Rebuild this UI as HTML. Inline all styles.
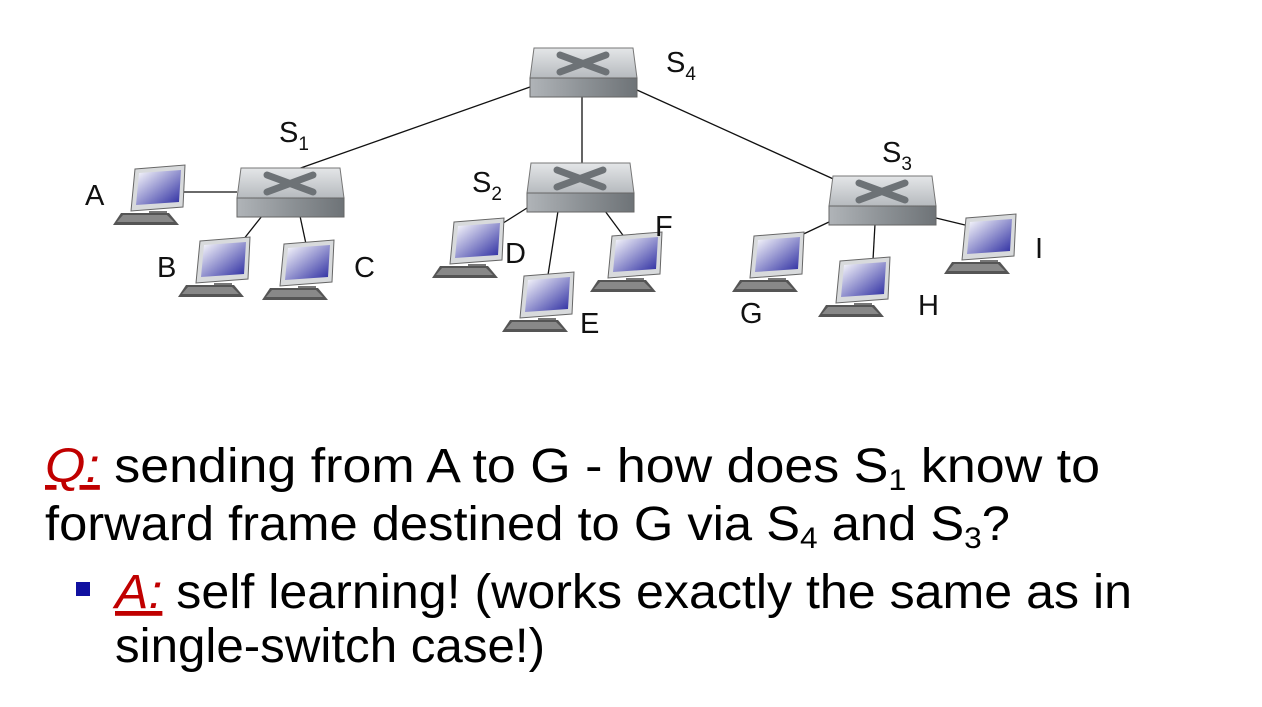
<!DOCTYPE html>
<html><head><meta charset="utf-8"><style>
html,body{margin:0;padding:0;background:#fff;}
svg{display:block;}
.l{font-family:"Liberation Sans",sans-serif;font-size:29px;fill:#111;}
.t{font-family:"Liberation Sans",sans-serif;font-size:48px;fill:#000;}
</style></head><body>
<svg width="1262" height="707" viewBox="0 0 1262 707" xmlns="http://www.w3.org/2000/svg">
<defs>
<linearGradient id="scr" x1="0" y1="0" x2="1" y2="1"><stop offset="0" stop-color="#fff"/><stop offset="1" stop-color="#2a2aa0"/></linearGradient>
<linearGradient id="top" x1="0" y1="0" x2="0" y2="1"><stop offset="0" stop-color="#e4e6e8"/><stop offset="1" stop-color="#b6babe"/></linearGradient>
<linearGradient id="front" x1="0" y1="0" x2="1" y2="0"><stop offset="0" stop-color="#b0b4b8"/><stop offset="0.5" stop-color="#8d9296"/><stop offset="1" stop-color="#6e7377"/></linearGradient>
<g id="sw">
<polygon points="4,0 103,0 107,30 0,30" fill="url(#top)" stroke="#777" stroke-width="1"/>
<rect x="0" y="30" width="107" height="19" fill="url(#front)" stroke="#666" stroke-width="1"/>
<path d="M30,7 L76,24 M76,7 L30,24" stroke="#6d7276" stroke-width="7" stroke-linecap="round"/>
</g>
<g id="pc">
<polygon points="22,4 72,0 70,42 18,46" fill="#d8dadc" stroke="#666" stroke-width="1"/>
<polygon points="26,8 68,5 66,37 23,40" fill="url(#scr)"/>
<rect x="36" y="46" width="18" height="4" fill="#777"/>
<polygon points="8,48 56,48 66,60 0,60" fill="#555"/>
<polygon points="10,50 54,50 61,57 4,57" fill="#888"/>
</g>
</defs>
<g stroke="#111" stroke-width="1.3">
<line x1="530" y1="87" x2="295" y2="170"/>
<line x1="582" y1="97" x2="582" y2="163"/>
<line x1="637" y1="90" x2="840" y2="182"/>
<line x1="183" y1="192" x2="237" y2="192"/>
<line x1="262" y1="216" x2="243" y2="240"/>
<line x1="300" y1="216" x2="306" y2="244"/>
<line x1="527" y1="208" x2="500" y2="225"/>
<line x1="558" y1="211" x2="548" y2="275"/>
<line x1="605" y1="211" x2="625" y2="238"/>
<line x1="829" y1="222" x2="795" y2="238"/>
<line x1="875" y1="224" x2="873" y2="260"/>
<line x1="936" y1="218" x2="965" y2="225"/>
</g>
<use href="#sw" x="530" y="48"/>
<use href="#sw" x="237" y="168"/>
<use href="#sw" x="527" y="163"/>
<use href="#sw" x="829" y="176"/>
<use href="#pc" x="113" y="165"/>
<use href="#pc" x="178" y="237"/>
<use href="#pc" x="262" y="240"/>
<use href="#pc" x="432" y="218"/>
<use href="#pc" x="502" y="272"/>
<use href="#pc" x="590" y="232"/>
<use href="#pc" x="732" y="232"/>
<use href="#pc" x="818" y="257"/>
<use href="#pc" x="944" y="214"/>
<text class="l" x="666" y="72">S<tspan font-size="19" dy="8">4</tspan></text>
<text class="l" x="279" y="142">S<tspan font-size="19" dy="8">1</tspan></text>
<text class="l" x="472" y="192">S<tspan font-size="19" dy="8">2</tspan></text>
<text class="l" x="882" y="162">S<tspan font-size="19" dy="8">3</tspan></text>
<text class="l" x="85" y="205">A</text>
<text class="l" x="157" y="277">B</text>
<text class="l" x="354" y="277">C</text>
<text class="l" x="505" y="263">D</text>
<text class="l" x="580" y="333">E</text>
<text class="l" x="655" y="236">F</text>
<text class="l" x="740" y="323">G</text>
<text class="l" x="918" y="315">H</text>
<text class="l" x="1035" y="258">I</text>
<text class="t" x="45" y="482" textLength="1055" lengthAdjust="spacingAndGlyphs"><tspan fill="#c00000" font-style="italic" text-decoration="underline">Q:</tspan> sending from A to G - how does S<tspan font-size="30" dy="8">1</tspan><tspan dy="-8"> know to</tspan></text>
<text class="t" x="45" y="540" textLength="965" lengthAdjust="spacingAndGlyphs">forward frame destined to G via S<tspan font-size="30" dy="8">4</tspan><tspan dy="-8"> and S</tspan><tspan font-size="30" dy="8">3</tspan><tspan dy="-8">?</tspan></text>
<rect x="76" y="582" width="14" height="14" fill="#1010a0"/>
<text class="t" x="115" y="608" textLength="1017" lengthAdjust="spacingAndGlyphs"><tspan fill="#c00000" font-style="italic" text-decoration="underline">A:</tspan> self learning! (works exactly the same as in</text>
<text class="t" x="115" y="662" textLength="430" lengthAdjust="spacingAndGlyphs">single-switch case!)</text>
</svg>
</body></html>
